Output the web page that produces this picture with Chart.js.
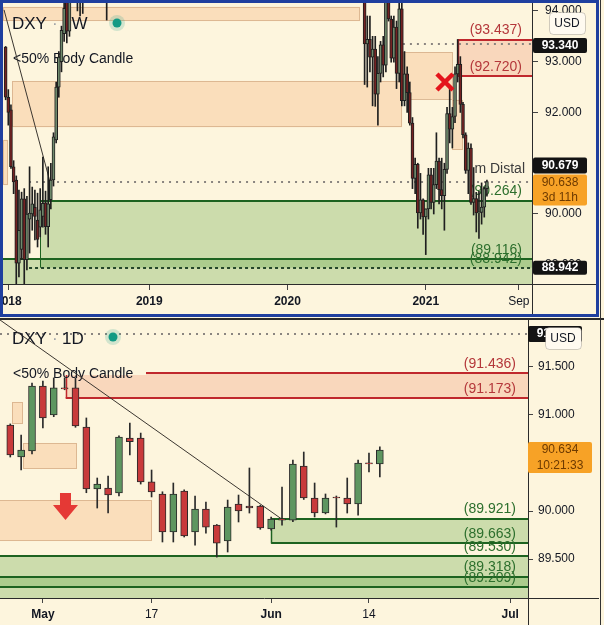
<!DOCTYPE html>
<html>
<head>
<meta charset="utf-8">
<script src="https://cdn.jsdelivr.net/npm/chart.js@4.4.1/dist/chart.umd.min.js"></script>
<style>
  html, body { margin: 0; padding: 0; }
  body { width: 604px; height: 625px; overflow: hidden; position: relative; background: #fdf5dd; }
  #frame { position: absolute; left: 0; top: 0; width: 599px; height: 317px; box-sizing: border-box; border: 3px solid #1f3f9f; }
  #wk { position: absolute; left: 3px; top: 3px; }
  #sep { position: absolute; left: 0; top: 318px; width: 604px; height: 2px; background: #2b2b2b; }
  #dy { position: absolute; left: 0; top: 320px; }
  #edge { position: absolute; left: 600px; top: 0; width: 1px; height: 625px; background: #333; }
</style>
</head>
<body>
<div id="frame"></div>
<canvas id="wk" width="593" height="311"></canvas>
<div id="sep"></div>
<canvas id="dy" width="599" height="305"></canvas>
<div id="edge"></div>
<script>
const FONT = '"Liberation Sans", Arial, sans-serif'
const INK = '#131722'

// ---- weekly panel (DXY 1W), x = weeks counted from the week of 1 Jan 2018 ----
const wkIdx = [-1, 0, 1, 2, 3, 4, 5, 6, 7, 8, 9, 10, 11, 12, 13, 14, 15, 16, 17, 18, 19, 20, 21, 22, 23, 26, 27, 28, 37,
  134, 135, 136, 137, 138, 139, 140, 141, 142, 143, 144, 145, 146, 147, 148, 149, 150, 151, 152, 153, 154, 155, 156, 157,
  158, 159, 160, 161, 162, 163, 164, 165, 166, 167, 168, 169, 170, 171, 172, 173, 174, 175, 176, 177, 178, 179, 180]
const wkOpen = [93.29, 92.30, 92.05, 90.93, 90.67, 89.03, 89.30, 90.30, 89.10, 89.90, 90.00, 90.13, 89.88, 89.74, 89.95, 90.22, 89.75, 90.28, 90.67, 91.46, 92.50, 93.00, 93.55, 94.30, 93.60, 94.40, 94.50, 94.60, 94.30,
  94.44, 93.35, 93.44, 93.09, 93.25, 92.36, 92.77, 93.33, 92.93, 94.64, 93.84, 93.07, 93.68, 92.77, 94.04, 92.23, 92.76, 92.39, 91.79, 90.70, 90.98, 90.02, 90.28, 89.94,
  90.10, 90.77, 90.23, 90.58, 91.04, 90.48, 90.36, 90.88, 91.98, 91.67, 91.92, 92.76, 92.95, 92.16, 91.56, 90.86, 91.30, 90.229, 90.302, 90.021, 90.031, 90.135, 90.499]
const wkHigh = [93.30, 92.45, 92.15, 91.05, 90.75, 90.47, 90.43, 90.50, 90.35, 90.93, 90.53, 90.47, 90.41, 90.50, 91.12, 90.45, 90.93, 91.00, 91.60, 92.60, 93.20, 93.70, 94.50, 94.90, 95.00, 94.70, 95.00, 94.90, 94.60,
  94.60, 93.90, 93.90, 93.50, 93.50, 93.10, 93.40, 93.50, 94.74, 94.70, 93.90, 93.90, 93.80, 94.30, 94.30, 93.20, 92.90, 92.60, 91.90, 91.10, 91.00, 90.80, 90.30, 90.10,
  90.90, 90.90, 90.90, 91.60, 91.10, 91.10, 91.00, 92.10, 92.50, 92.10, 92.90, 93.437, 93.10, 92.20, 91.60, 91.40, 91.383, 90.915, 90.426, 90.447, 90.613, 90.530, 90.666]
const wkLow = [92.25, 91.75, 90.90, 90.40, 88.50, 88.76, 89.10, 88.50, 88.90, 89.23, 89.68, 89.49, 89.35, 89.55, 89.74, 89.60, 89.35, 90.10, 90.55, 91.40, 92.30, 92.80, 93.40, 93.37, 93.50, 94.00, 93.90, 93.95, 93.82,
  92.55, 92.50, 92.80, 92.13, 92.12, 91.75, 92.60, 92.70, 92.80, 93.80, 92.99, 92.99, 92.47, 92.60, 92.13, 92.13, 92.00, 91.75, 90.50, 90.40, 89.72, 89.90, 89.60, 89.20,
  89.90, 90.10, 90.00, 90.50, 90.20, 90.10, 89.68, 90.80, 91.40, 91.30, 91.80, 92.60, 92.00, 91.50, 90.80, 90.40, 90.190, 89.979, 89.646, 89.521, 89.800, 89.938, 90.353]
const wkClose = [92.30, 92.00, 90.93, 90.63, 89.03, 89.68, 90.30, 89.10, 90.00, 90.02, 90.20, 89.95, 89.50, 90.08, 90.21, 89.75, 90.20, 90.67, 91.52, 92.50, 93.09, 93.62, 94.05, 93.60, 94.80, 94.50, 94.70, 94.50, 94.20,
  93.35, 93.44, 93.09, 93.25, 92.36, 92.77, 93.33, 92.93, 94.64, 93.84, 93.07, 93.68, 92.77, 94.04, 92.23, 92.76, 92.39, 91.79, 90.70, 90.98, 90.02, 90.28, 89.94, 90.10,
  90.77, 90.23, 90.58, 91.04, 90.48, 90.36, 90.88, 91.98, 91.67, 91.92, 92.76, 92.95, 92.16, 91.56, 90.86, 91.30, 90.229, 90.302, 90.021, 90.031, 90.135, 90.499, 90.638]
const wkTicks = [0, 53, 105, 157, 192]
const wkTickLabels = ['2018', '2019', '2020', '2021', 'Sep']
const wkBoldTicks = [0, 53, 105, 157]
const wkPriceTicks = [89, 90, 91, 92, 93, 94]
const wkTrendX = [-1.6, 15.7]
const wkTrendY = [94.02, 90.63]
// [fromWeek, toWeek, upper, lower]
const wkBoxes = [[-2, 132.3, 94.08, 93.80], [1.4, 148.1, 92.62, 91.71], [148.4, 167.2, 93.19, 92.25], [166.9, 171, 92.25, 91.26], [-2, -0.1, 91.46, 90.57]]
const wkSupply = [93.437, 92.720]
const wkDemand = [90.264, 89.116, 88.942]
const wkLast = 90.638
const wkMark = 90.679
const wkHighTag = 93.340

// ---- daily panel (DXY 1D), x = trading days counted from 27 Apr 2021 ----
const dayIdx = [1, 2, 3, 4, 5, 6, 7, 8, 9, 10, 11, 12, 13, 14, 15, 16, 17, 18, 19, 20, 21, 22, 23, 24, 25, 26, 27, 28, 29, 30, 31, 32, 33, 34, 35]
const dayOpen = [90.894, 90.561, 90.624, 91.299, 90.998, 91.280, 91.279, 90.873, 90.229, 90.239, 90.187, 90.759, 90.759, 90.302, 90.177, 89.782, 90.208, 89.782, 90.021, 89.854, 89.688, 90.073, 90.052, 90.052, 89.813, 89.920, 89.906, 90.468, 90.135, 89.979, 90.140, 90.135, 90.073, 90.500, 90.489]
const dayHigh = [90.905, 90.790, 91.330, 91.350, 91.383, 91.383, 91.383, 90.967, 90.343, 90.364, 90.780, 90.915, 90.810, 90.426, 90.200, 90.291, 90.220, 90.156, 90.094, 89.860, 90.114, 90.166, 90.447, 90.060, 89.938, 90.249, 90.530, 90.613, 90.291, 90.177, 90.156, 90.343, 90.530, 90.603, 90.666]
const dayLow = [90.561, 90.426, 90.592, 90.863, 90.980, 91.260, 90.870, 90.190, 90.031, 89.979, 90.156, 90.582, 90.280, 90.146, 89.678, 89.678, 89.730, 89.646, 89.771, 89.521, 89.574, 89.886, 89.979, 89.810, 89.800, 89.854, 89.890, 90.120, 89.938, 89.970, 89.833, 89.979, 89.958, 90.405, 90.353]
const dayClose = [90.582, 90.634, 91.299, 90.967, 91.279, 91.268, 90.884, 90.229, 90.281, 90.166, 90.769, 90.720, 90.302, 90.198, 89.782, 90.177, 89.740, 90.021, 89.833, 89.667, 90.042, 90.000, 90.031, 89.823, 89.917, 89.906, 90.489, 90.135, 89.979, 90.135, 90.135, 90.073, 90.499, 90.490, 90.634]
const dayTicks = [4, 14, 25, 34, 47]
const dayTickLabels = ['May', '17', 'Jun', '14', 'Jul']
const dayBoldTicks = [4, 25, 47]
const dayPriceTicks = [89.5, 90, 90.5, 91, 91.5]
const dayTrendX = [-1, 26.1]
const dayTrendY = [92.07, 89.906]
const dayBoxes = [[1.16, 2.17, 91.133, 90.904], [2.17, 7.14, 90.707, 90.437], [-1, 14.04, 90.114, 89.688]]
const daySupply = [91.436, 91.173]
const dayDemand = [89.921, 89.663, 89.530, 89.318, 89.209]
const dayLast = 90.634
const dayTopTag = 91.840


const SAL = 'rgba(245,190,140,0.42)'
const SAL_EDGE = 'rgba(185,135,95,0.45)'
const SUP = 'rgba(243,170,140,0.40)'
const GRN = 'rgba(120,175,90,0.37)'
const RED_LINE = '#c0282d'
const GRN_LINE = '#1d6320'

function candleSets(idx, o, h, l, c, bodyW, up, down, edge) {
    const cols = idx.map((_, k) => c[k] >= o[k] ? up : down)
    return [
        {
            type: 'bar', order: 0, grouped: false, clip: 0,
            barThickness: bodyW, maxBarThickness: bodyW, minBarLength: 1,
            data: idx.map((x, k) => ({ x: x, y: [o[k], c[k]] })),
            backgroundColor: cols, borderColor: edge, borderWidth: 1, borderSkipped: false
        },
        {
            type: 'bar', order: 1, grouped: false, clip: 0,
            barThickness: 1, maxBarThickness: 1,
            data: idx.map((x, k) => ({ x: x, y: [l[k], h[k]] })),
            backgroundColor: edge, borderWidth: 0
        }
    ]
}

function trendSet(xs, ys) {
    return {
        type: 'line', order: 2, clip: 0,
        data: xs.map((x, k) => ({ x: x, y: ys[k] })),
        borderColor: '#3b3630', borderWidth: 1, pointRadius: 0
    }
}

function scales(xr, xTicks, xLabels, bold, yr, yTicks, yW, xH, tl, pad) {
    return {
        x: {
            type: 'linear', min: xr[0], max: xr[1], offset: false,
            grid: { drawOnChartArea: false, tickLength: tl, color: '#444', offset: false },
            border: { color: '#2b2b2b' },
            afterBuildTicks: s => { s.ticks = xTicks.map(v => ({ value: v })) },
            afterFit: s => { s.height = xH; s.paddingLeft = 0; s.paddingRight = 0 },
            ticks: {
                autoSkip: false, maxRotation: 0, padding: 4, color: INK,
                font: c => ({ family: FONT, size: 12, weight: c.tick && bold.includes(c.tick.value) ? 'bold' : 'normal' }),
                callback: v => xLabels[xTicks.indexOf(v)]
            }
        },
        y: {
            position: 'right', min: yr[0], max: yr[1],
            grid: { drawOnChartArea: false, tickLength: tl, color: '#444' },
            border: { color: '#2b2b2b' },
            afterBuildTicks: s => { s.ticks = yTicks.map(v => ({ value: v })) },
            afterFit: s => { s.width = yW; s.paddingTop = 0; s.paddingBottom = 0 },
            ticks: { padding: pad, color: INK, font: { family: FONT, size: 12 }, callback: v => v.toFixed(3) }
        }
    }
}

function kit(ch) {
    const x = ch.scales.x, y = ch.scales.y
    return { ctx: ch.ctx, a: ch.chartArea, x: x, y: y, X: v => x.getPixelForValue(v), Y: v => y.getPixelForValue(v) }
}

function box(p, b, fill, edge) {
    const l = p.X(b[0]), r = p.X(b[1]), t = p.Y(b[2]), u = p.Y(b[3])
    p.ctx.fillStyle = fill
    p.ctx.fillRect(l, t, r - l, u - t)
    if (edge) {
        p.ctx.strokeStyle = edge
        p.ctx.lineWidth = 1
        p.ctx.strokeRect(Math.round(l) + 0.5, Math.round(t) + 0.5, Math.round(r - l) - 1, Math.round(u - t) - 1)
    }
}

function level(p, from, v, color, w, dash) {
    const c = p.ctx
    const y = Math.round(p.Y(v)) + (w % 2 ? 0.5 : 0)
    c.save()
    c.strokeStyle = color
    c.lineWidth = w
    c.setLineDash(dash || [])
    c.beginPath()
    c.moveTo(p.X(from), y)
    c.lineTo(p.a.right, y)
    c.stroke()
    c.restore()
}

function side(p, at, v0, v1, color, w) {
    const c = p.ctx
    const x = Math.round(p.X(at)) + 0.5
    c.strokeStyle = color
    c.lineWidth = w
    c.beginPath()
    c.moveTo(x, p.Y(v0))
    c.lineTo(x, p.Y(v1))
    c.stroke()
}

function note(p, txt, xr, v, color) {
    const c = p.ctx
    c.font = '14px ' + FONT
    c.fillStyle = color
    c.textAlign = 'right'
    c.textBaseline = 'middle'
    c.fillText(txt, xr, p.Y(v) - 9)
}

function legend(c, tf, x0, y, dotX, dotY, subY) {
    c.textAlign = 'left'
    c.textBaseline = 'middle'
    c.font = '17px ' + FONT
    c.fillStyle = INK
    c.fillText('DXY', x0, y)
    c.fillStyle = '#a0a4a8'
    c.fillText('·', x0 + 40, y)
    c.fillStyle = INK
    c.fillText(tf, x0 + 50, y)
    c.fillStyle = 'rgba(18,154,132,0.18)'
    c.beginPath(); c.arc(dotX, dotY, 8, 0, Math.PI * 2); c.fill()
    c.fillStyle = '#129a84'
    c.beginPath(); c.arc(dotX, dotY, 4.5, 0, Math.PI * 2); c.fill()
    c.font = '14px ' + FONT
    c.fillStyle = INK
    c.fillText('<50% Body Candle', x0 + 1, subY)
}

function tag(c, l, r, top, h, bg, fg, lines, bold) {
    c.fillStyle = bg
    c.beginPath()
    c.roundRect(l, top, r - l, h, 2)
    c.fill()
    c.fillStyle = fg
    c.font = (bold ? 'bold ' : '') + '12px ' + FONT
    c.textAlign = 'center'
    c.textBaseline = 'middle'
    const step = h / lines.length
    lines.forEach((t, k) => c.fillText(t, (l + r) / 2, top + step * (k + 0.5)))
}

function usd(c, l, t, w, h) {
    c.fillStyle = '#fffaf0'
    c.strokeStyle = 'rgba(0,0,0,0.18)'
    c.lineWidth = 1
    c.beginPath()
    c.roundRect(l + 0.5, t + 0.5, w, h, 4)
    c.fill()
    c.stroke()
    c.fillStyle = INK
    c.font = '12px ' + FONT
    c.textAlign = 'center'
    c.textBaseline = 'middle'
    c.fillText('USD', l + w / 2, t + h / 2 + 1)
}

function axisRest(p, cw, chh) {
    const c = p.ctx
    c.strokeStyle = '#2b2b2b'
    c.lineWidth = 1
    c.beginPath()
    c.moveTo(p.a.right, Math.round(p.a.bottom) + 0.5)
    c.lineTo(cw, Math.round(p.a.bottom) + 0.5)
    c.moveTo(Math.round(p.a.right) + 0.5, p.a.bottom)
    c.lineTo(Math.round(p.a.right) + 0.5, chh)
    c.stroke()
}

// ---------- weekly drawings ----------
const wkDraw = {
    id: 'wkDraw',
    beforeDatasetsDraw(ch) {
        const p = kit(ch), c = p.ctx, a = p.a
        c.save()
        c.beginPath(); c.rect(a.left, a.top, a.width, a.height); c.clip()
        wkBoxes.forEach(b => box(p, b, SAL, SAL_EDGE))
        box(p, [169, p.x.max, wkSupply[0], wkSupply[1]], SUP)
        box(p, [11.9, p.x.max, wkDemand[0], wkDemand[2]], GRN)
        box(p, [p.x.min, p.x.max, wkDemand[1], p.y.min], GRN)
        level(p, 148.4, wkHighTag, '#8a8580', 2, [2, 5])
        level(p, 7.8, wkLast, '#8a8580', 2, [2, 5])
        level(p, 169, wkSupply[0], RED_LINE, 2)
        level(p, 169, wkSupply[1], RED_LINE, 2)
        side(p, 169, wkSupply[0], wkSupply[1], RED_LINE, 1.5)
        level(p, 11.9, wkDemand[0], GRN_LINE, 2)
        level(p, p.x.min, wkDemand[1], GRN_LINE, 2)
        level(p, 7.8, wkDemand[2], '#24472a', 2, [3, 3])
        side(p, 11.9, wkDemand[0], wkDemand[2], GRN_LINE, 1)
        legend(c, '1W', 9, 21, 114, 20, 56)
        note(p, '(93.437)', 519, wkSupply[0], '#b4373a')
        note(p, '(92.720)', 519, wkSupply[1], '#b4373a')
        note(p, '(90.264)', 519, wkDemand[0], '#2d6f2d')
        note(p, '(89.116)', 519, wkDemand[1], '#2d6f2d')
        note(p, '(88.942)', 519, wkDemand[2], '#2d6f2d')
        c.font = '14px ' + FONT
        c.fillStyle = '#3c3c3c'
        c.textAlign = 'left'
        c.fillText('m Distal', p.X(175.3), p.Y(wkMark) - 10)
        c.restore()
    },
    afterDatasetsDraw(ch) {
        const p = kit(ch), c = p.ctx
        const cx = p.X(164.2), cy = p.Y(92.6)
        c.save()
        c.strokeStyle = '#e4141b'
        c.lineWidth = 4.5
        c.beginPath()
        c.moveTo(cx - 8, cy - 8); c.lineTo(cx + 8, cy + 8)
        c.moveTo(cx + 8, cy - 8); c.lineTo(cx - 8, cy + 8)
        c.stroke()
        c.restore()
    },
    afterDraw(ch) {
        const p = kit(ch), c = p.ctx
        c.save()
        axisRest(p, ch.width, ch.height)
        const l = p.a.right + 1, r = p.a.right + 55
        tag(c, l, r, p.Y(wkHighTag) - 6.5, 15, '#131313', '#fff', ['93.340'], true)
        const oTop = p.Y(wkLast) - 7
        tag(c, l, r, oTop, 31, '#f7a226', '#6d3a00', ['90.638', '3d 11h'], false)
        tag(c, l, r, oTop - 17, 16, '#131313', '#fff', ['90.679'], true)
        tag(c, l, r, p.Y(wkDemand[2]) - 7, 14, '#131313', '#fff', ['88.942'], true)
        usd(c, 546, 9, 36, 22)
        c.restore()
    }
}

// ---------- daily drawings ----------
const dayDraw = {
    id: 'dayDraw',
    beforeDatasetsDraw(ch) {
        const p = kit(ch), c = p.ctx, a = p.a
        c.save()
        c.beginPath(); c.rect(a.left, a.top, a.width, a.height); c.clip()
        dayBoxes.forEach(b => box(p, b, SAL, SAL_EDGE))
        box(p, [6.1, p.x.max, daySupply[0], daySupply[1]], SUP)
        box(p, [25.0, p.x.max, dayDemand[0], dayDemand[1]], GRN)
        box(p, [p.x.min, p.x.max, dayDemand[2], p.y.min], GRN)
        box(p, [p.x.min, p.x.max, dayDemand[3], dayDemand[4]], GRN)
        level(p, p.x.min, dayTopTag, '#8a8580', 2, [2, 5])
        level(p, 6.1, daySupply[0], RED_LINE, 2)
        level(p, 6.1, daySupply[1], RED_LINE, 2)
        side(p, 6.1, daySupply[0], daySupply[1], RED_LINE, 1.5)
        level(p, 25.0, dayDemand[0], GRN_LINE, 2)
        level(p, 25.0, dayDemand[1], GRN_LINE, 2)
        side(p, 25.0, dayDemand[0], dayDemand[1], GRN_LINE, 1.5)
        level(p, p.x.min, dayDemand[2], GRN_LINE, 2)
        level(p, p.x.min, dayDemand[3], GRN_LINE, 2)
        level(p, p.x.min, dayDemand[4], GRN_LINE, 2)
        c.fillStyle = '#fdf5dd'
        c.fillRect(10, 45, 136, 10)
        legend(c, '1D', 12, 19, 113, 17, 54)
        note(p, '(91.436)', 516, daySupply[0], '#b4373a')
        note(p, '(91.173)', 516, daySupply[1], '#b4373a')
        dayDemand.forEach(v => note(p, '(' + v.toFixed(3) + ')', 516, v, '#2d6f2d'))
        // red down arrow
        const ax = p.X(6.08), at = p.Y(90.187)
        c.fillStyle = '#e53935'
        c.beginPath()
        c.moveTo(ax - 5.5, at); c.lineTo(ax + 5.5, at); c.lineTo(ax + 5.5, at + 12)
        c.lineTo(ax + 12.5, at + 12); c.lineTo(ax, at + 27); c.lineTo(ax - 12.5, at + 12)
        c.lineTo(ax - 5.5, at + 12); c.closePath(); c.fill()
        c.restore()
    },
    afterDraw(ch) {
        const p = kit(ch), c = p.ctx
        c.save()
        axisRest(p, ch.width, ch.height)
        tag(c, p.a.right, p.a.right + 54, p.Y(dayTopTag) - 8, 16, '#131313', '#fff', ['91.840'], true)
        tag(c, p.a.right, p.a.right + 64, p.Y(dayLast) - 8, 31, '#f7a226', '#6d3a00', ['90.634', '10:21:33'], false)
        usd(c, 545, 7, 36, 22)
        c.restore()
    }
}

Chart.defaults.font.family = FONT

const weekly = new Chart(document.getElementById('wk'), {
    type: 'bar',
    data: {
        datasets: candleSets(wkIdx, wkOpen, wkHigh, wkLow, wkClose, 3, '#6f8a6c', '#742222', '#1f1f1f')
            .concat([trendSet(wkTrendX, wkTrendY)])
    },
    options: {
        responsive: false, animation: false, devicePixelRatio: 1,
        layout: { padding: 0 },
        plugins: { legend: { display: false }, tooltip: { enabled: false } },
        scales: scales([-1.993, 196.95], wkTicks, wkTickLabels, wkBoldTicks, [88.621, 94.156], wkPriceTicks, 64, 30, 6, 7)
    },
    plugins: [wkDraw]
})

const daily = new Chart(document.getElementById('dy'), {
    type: 'bar',
    data: {
        datasets: candleSets(dayIdx, dayOpen, dayHigh, dayLow, dayClose, 7, '#5e9660', '#c83a3b', '#2a2a2a')
            .concat([trendSet(dayTrendX, dayTrendY)])
    },
    options: {
        responsive: false, animation: false, devicePixelRatio: 1,
        layout: { padding: 0 },
        plugins: { legend: { display: false }, tooltip: { enabled: false } },
        scales: scales([0.055, 48.63], dayTicks, dayTickLabels, dayBoldTicks, [89.096, 91.985], dayPriceTicks, 71, 27, 5, 5)
    },
    plugins: [dayDraw]
})
</script>
</body>
</html>
